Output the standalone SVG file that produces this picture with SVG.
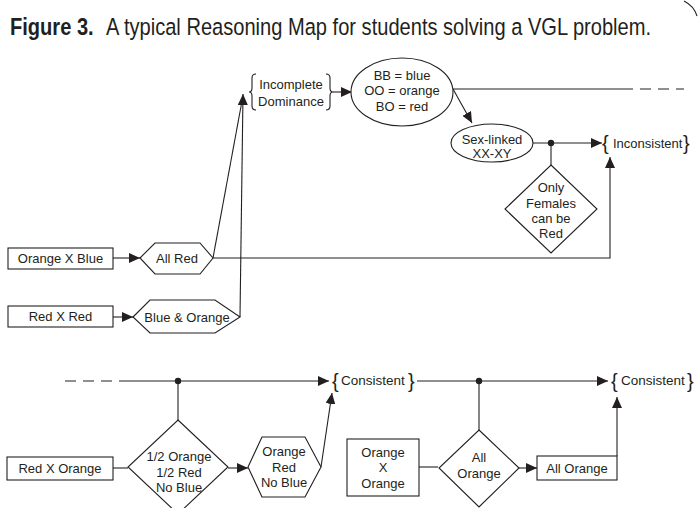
<svg xmlns="http://www.w3.org/2000/svg" width="698" height="508" viewBox="0 0 698 508">
<defs>
<style>
text{font-family:"Liberation Sans",Arial,sans-serif;fill:#231f20;font-size:13px}
.c{text-anchor:middle}
.t{font-size:24.5px}
.shape{fill:#fff;stroke:#231f20;stroke-width:1.1}
.ln{fill:none;stroke:#231f20;stroke-width:1.1}
.arr{marker-end:url(#ah)}
.dash{stroke-dasharray:11,7}
.br{font-size:20px}
.dot{fill:#231f20}
</style>
<marker id="ah" markerUnits="userSpaceOnUse" markerWidth="11" markerHeight="10" refX="11" refY="5" orient="auto">
<path d="M0,0 L11,5 L0,10 z" fill="#231f20"/>
</marker>
</defs>
<rect width="698" height="508" fill="#fff"/>
<g id="title" transform="scale(0.82,1)">
<text class="t" x="12.2" y="35" font-weight="bold">Figure 3.</text>
<text class="t" x="129.3" y="35">A typical Reasoning Map for students solving a VGL problem.</text>
</g>
<path class="ln" d="M684,1 Q694,6 697,16"/>
<g id="connectors">
<path class="ln arr" d="M113,258 L140,258"/>
<path class="ln arr" d="M113,317 L133,317"/>
<path class="ln" d="M213,258 L242,101"/>
<path class="ln arr" d="M240,317 L243,94"/>
<path class="ln arr" d="M333,92 L352,92"/>
<path class="ln" d="M453,89 L633,89"/>
<path class="ln dash" d="M640,89 L684,89"/>
<path class="ln arr" d="M453,89 L472,123"/>
<path class="ln arr" d="M533,143 L602,143"/>
<circle class="dot" cx="551" cy="143" r="3.2"/>
<path class="ln" d="M551,143 L551,165"/>
<path class="ln arr" d="M213,258 L610,258 L610,157"/>
<path class="ln dash" d="M65,381 L123,381"/>
<path class="ln arr" d="M123,381 L329,381"/>
<circle class="dot" cx="178" cy="381" r="3.2"/>
<path class="ln" d="M178,381 L178,420"/>
<path class="ln" d="M113,468 L128,468"/>
<path class="ln arr" d="M228,468 L248,468"/>
<path class="ln arr" d="M321,467 L332,393"/>
<path class="ln arr" d="M417,381 L608,381"/>
<circle class="dot" cx="479" cy="381" r="3.2"/>
<path class="ln" d="M479,381 L479,430"/>
<path class="ln" d="M419,467 L438,467"/>
<path class="ln arr" d="M519,468 L537,468"/>
<path class="ln arr" d="M617,456 L617,397"/>
</g>
<g id="n-orange-x-blue">
<rect class="shape" x="8" y="248" width="105" height="21"/>
<text class="c" x="60.5" y="263">Orange X Blue</text>
</g>
<g id="n-all-red">
<polygon class="shape" points="140,258 155,243 200,243 213,258 200,274 155,274"/>
<text class="c" x="177" y="263">All Red</text>
</g>
<g id="n-red-x-red">
<rect class="shape" x="8" y="306" width="105" height="21"/>
<text class="c" x="60.5" y="321">Red X Red</text>
</g>
<g id="n-blue-orange">
<polygon class="shape" points="133,317 150,300 215,300 240,317 215,333 150,333"/>
<text class="c" x="187" y="322">Blue &amp; Orange</text>
</g>
<g id="n-incomplete">
<path class="ln" d="M256,74 Q252,74 252,78 L252,88 Q252,92 249,92 Q252,92 252,96 L252,106 Q252,110 256,110"/>
<path class="ln" d="M326,74 Q330,74 330,78 L330,88 Q330,92 333,92 Q330,92 330,96 L330,106 Q330,110 326,110"/>
<text class="c" x="291" y="89">Incomplete</text>
<text class="c" x="291" y="106">Dominance</text>
</g>
<g id="n-genotypes">
<ellipse class="shape" cx="402" cy="92" rx="51" ry="34"/>
<text class="c" x="402" y="80">BB = blue</text>
<text class="c" x="402" y="95">OO = orange</text>
<text class="c" x="402" y="111">BO = red</text>
</g>
<g id="n-sex-linked">
<ellipse class="shape" cx="492" cy="143" rx="41" ry="19"/>
<text class="c" x="492" y="144">Sex-linked</text>
<text class="c" x="492" y="158">XX-XY</text>
</g>
<g id="n-only-females">
<polygon class="shape" points="551,165 597,209 551,253 505,209"/>
<text class="c" x="551" y="192">Only</text>
<text class="c" x="551" y="208">Females</text>
<text class="c" x="551" y="223">can be</text>
<text class="c" x="551" y="238">Red</text>
</g>
<g id="n-inconsistent">
<text class="br" x="602" y="150">{</text>
<text x="613" y="148">Inconsistent</text>
<text class="br" x="683" y="150">}</text>
</g>
<g id="n-red-x-orange">
<rect class="shape" x="7" y="457" width="106" height="23"/>
<text class="c" x="60" y="473">Red X Orange</text>
</g>
<g id="n-half">
<polygon class="shape" points="178,420 228,467 178,514 128,467"/>
<text class="c" x="179" y="461">1/2 Orange</text>
<text class="c" x="179" y="477">1/2 Red</text>
<text class="c" x="179" y="492">No Blue</text>
</g>
<g id="n-orn">
<polygon class="shape" points="248,467 262,437 305,437 321,467 305,497 262,497"/>
<text class="c" x="284" y="456">Orange</text>
<text class="c" x="284" y="472">Red</text>
<text class="c" x="284" y="487">No Blue</text>
</g>
<g id="n-consistent-1">
<text class="br" x="332" y="388">{</text>
<text x="341" y="385" style="font-size:13.5px">Consistent</text>
<text class="br" x="408" y="388">}</text>
</g>
<g id="n-orange-x-orange">
<rect class="shape" x="347" y="439" width="72" height="57"/>
<text class="c" x="383" y="457">Orange</text>
<text class="c" x="383" y="472">X</text>
<text class="c" x="383" y="488">Orange</text>
</g>
<g id="n-all-orange-d">
<polygon class="shape" points="479,430 519,468 479,507 439,468"/>
<text class="c" x="479" y="462">All</text>
<text class="c" x="479" y="478">Orange</text>
</g>
<g id="n-all-orange">
<rect class="shape" x="537" y="456" width="80" height="24"/>
<text class="c" x="577" y="473">All Orange</text>
</g>
<g id="n-consistent-2">
<text class="br" x="611" y="388">{</text>
<text x="621" y="385" style="font-size:13.5px">Consistent</text>
<text class="br" x="687" y="388">}</text>
</g>
</svg>
